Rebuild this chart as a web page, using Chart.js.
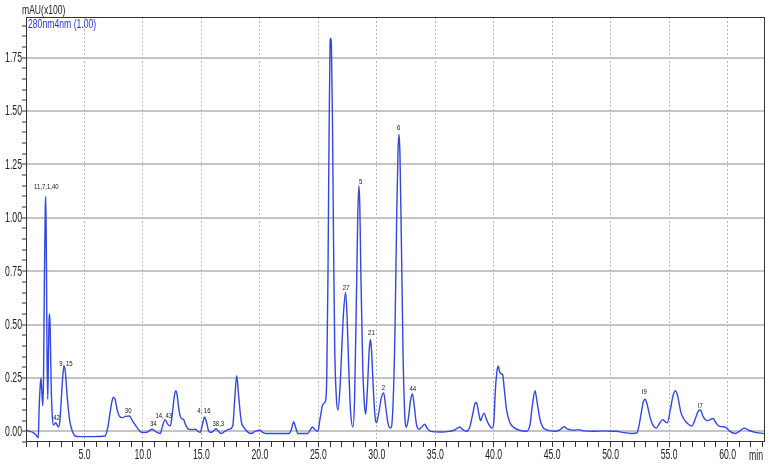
<!DOCTYPE html>
<html>
<head>
<meta charset="utf-8">
<script src="https://cdn.jsdelivr.net/npm/chart.js@4.4.1/dist/chart.umd.min.js"></script>
<style>
html,body{margin:0;padding:0;background:#fff;}
#wrap{width:771px;height:466px;position:relative;}
</style>
</head>
<body>
<div id="wrap"><canvas id="c" width="771" height="466"></canvas></div>
<script>
// Retention time (min)
const times = [
0.0,0.3,0.6,0.9,1.05,1.12,1.2,1.28,1.36,1.43,1.5,1.58,1.65,1.69,1.74,1.8,1.86,1.92,1.98,2.03,2.08,2.15,2.25,2.35,2.45,2.55,2.65,2.77,2.9,3.05,3.18,3.28,3.38,3.5,3.63,3.77,3.91,4.05,4.2,4.6,5.2,5.77,6.3,6.77,
7.0,7.2,7.35,7.48,7.62,7.8,8.0,8.25,8.5,8.85,9.1,9.34,9.6,9.9,10.3,10.6,10.77,10.95,11.2,11.48,11.65,11.9,12.1,12.34,12.55,12.7,12.83,12.95,13.08,13.2,13.35,13.48,13.65,13.9,14.2,14.48,14.7,14.9,
15.08,15.28,15.45,15.6,15.77,16.0,16.25,16.45,16.7,17.0,17.4,17.68,17.85,18.02,18.18,18.4,18.68,19.0,19.25,19.6,20.0,20.25,20.5,21.5,22.5,22.7,22.9,23.05,23.25,24.1,24.35,24.5,24.7,24.96,
25.15,25.35,25.45,25.6,25.72,25.82,25.92,26.0,26.05,26.12,26.2,26.3,26.4,26.55,26.68,26.85,27.0,27.15,27.33,27.45,27.6,27.75,27.96,28.1,28.25,28.37,28.47,28.55,28.65,28.8,28.95,29.05,
29.2,29.35,29.45,29.55,29.7,29.85,29.97,30.15,30.4,30.59,30.75,30.95,31.17,31.35,31.55,31.7,31.82,31.9,31.98,32.1,32.25,32.4,32.54,32.7,32.9,33.05,33.2,33.4,33.6,33.85,34.1,34.3,34.6,
35.5,36.2,36.6,36.9,37.1,37.35,37.7,37.95,38.2,38.4,38.53,38.7,38.88,39.05,39.19,39.35,39.6,39.87,40.0,40.15,40.3,40.39,40.5,40.6,40.76,40.9,41.1,41.39,41.8,42.2,42.8,43.1,43.3,43.53,
43.7,43.96,44.2,44.39,44.8,45.2,45.6,45.85,46.04,46.25,46.5,46.9,47.24,47.6,48.5,49.5,50.0,50.5,51.0,51.8,52.24,52.4,52.6,52.8,52.95,53.1,53.4,53.65,53.9,54.15,54.47,54.65,54.85,
55.1,55.35,55.55,55.75,56.0,56.24,56.6,56.95,57.25,57.5,57.67,57.9,58.24,58.5,58.76,59.0,59.24,59.5,59.81,60.2,60.67,61.0,61.44,61.8,62.38,63.1
];
// Absorbance 280 nm (mAU x100)
const absorbance = [
0.005,0.0,-0.005,-0.02,-0.03,0.10,0.20,0.25,0.18,0.12,0.25,0.75,1.05,1.10,0.85,0.35,0.15,0.35,0.53,0.55,0.45,0.22,0.07,0.03,0.035,0.04,0.03,0.02,0.05,0.18,0.28,0.305,0.27,0.18,0.10,0.04,0.01,-0.01,-0.022,-0.025,-0.025,-0.025,-0.024,-0.022,
0.02,0.09,0.14,0.16,0.15,0.10,0.07,0.064,0.07,0.072,0.05,0.03,0.01,-0.005,-0.005,0.005,0.01,0.005,-0.005,-0.01,0.02,0.055,0.035,0.025,0.10,0.17,0.19,0.16,0.10,0.07,0.058,0.055,0.03,0.01,0.008,0.01,0.0,-0.005,
0.03,0.067,0.04,0.005,-0.005,0.0,0.012,0.0,-0.01,0.0,0.01,0.025,0.15,0.26,0.17,0.05,0.015,-0.005,-0.01,0.0,0.005,-0.005,-0.01,-0.01,-0.01,0.01,0.045,0.02,-0.01,-0.01,0.01,0.02,0.008,0.0,
0.06,0.12,0.13,0.14,0.25,0.70,1.40,1.80,1.84,1.80,1.50,0.90,0.40,0.15,0.10,0.20,0.38,0.55,0.65,0.55,0.30,0.10,0.02,0.15,0.60,1.00,1.15,1.05,0.70,0.30,0.12,0.08,
0.20,0.38,0.43,0.38,0.20,0.07,0.04,0.08,0.16,0.18,0.12,0.04,0.015,0.08,0.45,1.00,1.32,1.39,1.30,0.90,0.35,0.07,0.02,0.06,0.15,0.175,0.12,0.03,0.01,0.02,0.033,0.015,0.0,
-0.003,0.0,0.005,0.015,0.02,0.008,0.0,0.02,0.08,0.13,0.135,0.09,0.05,0.075,0.085,0.06,0.03,0.015,0.04,0.20,0.29,0.305,0.28,0.27,0.265,0.20,0.10,0.04,0.015,0.005,0.0,0.03,0.12,0.19,
0.14,0.055,0.02,0.01,0.003,0.0,0.005,0.015,0.022,0.012,0.008,0.005,0.008,0.003,0.0,0.002,0.0,0.0,-0.005,-0.01,-0.008,0.02,0.08,0.14,0.15,0.13,0.06,0.025,0.015,0.035,0.055,0.045,0.04,
0.10,0.17,0.19,0.16,0.09,0.06,0.035,0.025,0.06,0.095,0.10,0.07,0.05,0.055,0.06,0.04,0.025,0.022,0.02,0.0,-0.01,0.0,0.015,0.005,-0.005,-0.01
];
// Peak annotations (text, time, value where the label sits)
const peakNames  = ["11,7,1,40","42","9, 15","30","34","14, 43","4, 16","38,3","27","5","21","2","6","44","I9","I7"];
const peakTimes  = [1.74,2.61,3.42,8.74,10.88,11.78,15.21,16.45,27.38,28.62,29.54,30.57,31.88,33.08,52.87,57.67];
const peakValues = [1.145,0.065,0.318,0.095,0.033,0.075,0.098,0.033,0.673,1.168,0.463,0.206,1.421,0.201,0.187,0.121];
// Axis settings
const xMin = 0, xMax = 63.2, xStep = 1, xMajor = 5;
const yMin = -0.05, yMax = 1.94, yStep = 0.05, yMajor = 0.25;
const yTitle = "mAU(x100)";
const channelLabel = "280nm4nm (1.00)";
const xUnit = "min";

const FONT = "'Liberation Sans',Arial,sans-serif";
const points = times.map((t,i)=>({x:t,y:absorbance[i]}));
const isMult = (v,m)=>Math.abs(Math.round(v/m)*m - v) < 1e-6;

function narrowText(ctx, text, x, y, size, sx, align){
  ctx.save();
  ctx.translate(x, y);
  ctx.scale(sx, 1);
  ctx.font = size + "px " + FONT;
  ctx.textAlign = align;
  ctx.textBaseline = 'middle';
  ctx.fillText(text, 0, 0);
  ctx.restore();
}

const decor = {
  id:'decor',
  afterDraw(chart){
    const {ctx, chartArea:a, scales:{x,y}} = chart;
    ctx.save();
    ctx.strokeStyle = '#333';
    ctx.lineWidth = 1;
    ctx.strokeRect(a.left+0.5, a.top+0.5, a.right-a.left-1, a.bottom-a.top-1);
    ctx.fillStyle = '#222';
    y.ticks.forEach(t=>{
      if (isMult(t.value,yMajor)) narrowText(ctx, t.value.toFixed(2), a.left-4, y.getPixelForValue(t.value)+0.5, 14, 0.62, 'right');
    });
    x.ticks.forEach(t=>{
      if (isMult(t.value,xMajor) && t.value>0) narrowText(ctx, t.value.toFixed(1), x.getPixelForValue(t.value), a.bottom+13, 14, 0.62, 'center');
    });
    narrowText(ctx, xUnit, 763, a.bottom+14, 14, 0.62, 'right');
    narrowText(ctx, yTitle, 22, 10, 13, 0.66, 'left');
    ctx.fillStyle = '#2233dd';
    narrowText(ctx, channelLabel, 28, 25, 12, 0.72, 'left');
    ctx.fillStyle = '#111';
    peakNames.forEach((n,i)=>{
      narrowText(ctx, n, x.getPixelForValue(peakTimes[i]), y.getPixelForValue(peakValues[i]), 8, 0.75, 'center');
    });
    ctx.restore();
  }
};

new Chart(document.getElementById('c'), {
  type:'line',
  data:{datasets:[{data:points, borderColor:'#3346e0', borderWidth:1.4, pointRadius:0, fill:false, cubicInterpolationMode:'monotone'}]},
  options:{
    responsive:false, animation:false, events:[],
    layout:{padding:{top:17,right:6,left:0,bottom:0}},
    plugins:{legend:{display:false}, tooltip:{enabled:false}},
    scales:{
      x:{type:'linear', min:xMin, max:xMax,
        afterFit(s){ s.height = 24; },
        border:{display:false, dash:[2,2]},
        grid:{color:c=> (isMult(c.tick.value,xMajor) && c.tick.value>0) ? '#b8b8b8' : 'rgba(0,0,0,0)', lineWidth:1, tickColor:'#333', tickLength:5, drawTicks:true},
        ticks:{stepSize:xStep, autoSkip:false, maxRotation:0, includeBounds:false, padding:2, font:{family:FONT,size:12},
          callback:()=> ''}
      },
      y:{type:'linear', min:yMin, max:yMax,
        afterFit(s){ s.width = 26; },
        border:{display:false},
        grid:{color:c=> isMult(c.tick.value,yMajor) ? '#c4c4c4' : 'rgba(0,0,0,0)', lineWidth:2, tickColor:'#333', tickLength:4, tickWidth:1},
        ticks:{stepSize:yStep, autoSkip:false, includeBounds:false, padding:1, font:{family:FONT,size:12},
          callback:()=> ''}
      }
    }
  },
  plugins:[decor]
});
</script>
</body>
</html>
